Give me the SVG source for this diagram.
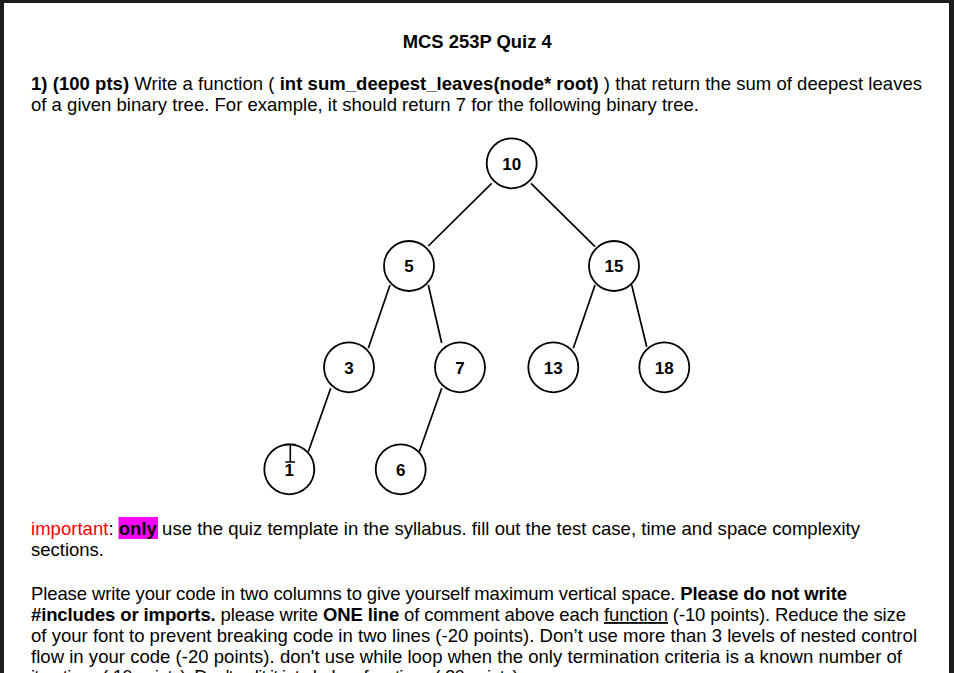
<svg xmlns="http://www.w3.org/2000/svg" width="954" height="673" viewBox="0 0 954 673">
<style>
text{font-family:"Liberation Sans",Arial,sans-serif;font-size:18.5px;fill:#000}
.b{font-weight:bold}
.red{fill:#ff0000}
.nl{font-weight:bold;font-size:17px;text-anchor:middle}
.node circle{fill:#fff;stroke:#000;stroke-width:1.8}
#edges line{stroke:#000;stroke-width:1.7}
</style>
<rect x="0" y="0" width="954" height="673" fill="#1c1c1c"/>
<rect x="4" y="3" width="945" height="670" fill="#ffffff"/>
<text x="402.7" y="48" class="b" textLength="149" lengthAdjust="spacingAndGlyphs">MCS 253P Quiz 4</text>
<text x="31" y="90" textLength="891"><tspan class="b">1) (100 pts)</tspan> Write a function ( <tspan class="b">int sum_deepest_leaves(node* root)</tspan> ) that return the sum of deepest leaves</text>
<text x="31" y="111" textLength="668">of a given binary tree. For example, it should return 7 for the following binary tree.</text>
<g id="edges">
<line x1="491.7" y1="183.3" x2="428.3" y2="246"/>
<line x1="531" y1="183.3" x2="595" y2="246.7"/>
<line x1="390" y1="285" x2="368.3" y2="348.3"/>
<line x1="428.3" y1="285" x2="441.7" y2="343"/>
<line x1="595" y1="285" x2="573.3" y2="348.3"/>
<line x1="631.7" y1="285" x2="646.7" y2="346.7"/>
<line x1="330.7" y1="388.3" x2="308.3" y2="451.7"/>
<line x1="441.7" y1="388.3" x2="419.3" y2="451.7"/>
</g>
<g id="n10" class="node"><circle cx="511.7" cy="163.3" r="25"/><text class="nl" x="511.7" y="169.5">10</text></g>
<g id="n5" class="node"><circle cx="409" cy="266" r="25"/><text class="nl" x="409" y="272.2">5</text></g>
<g id="n15" class="node"><circle cx="614" cy="266" r="25"/><text class="nl" x="614" y="272.2">15</text></g>
<g id="n3" class="node"><circle cx="349" cy="367.3" r="25"/><text class="nl" x="349" y="373.5">3</text></g>
<g id="n7" class="node"><circle cx="460" cy="367.3" r="25"/><text class="nl" x="460" y="373.5">7</text></g>
<g id="n13" class="node"><circle cx="553.3" cy="367.3" r="25"/><text class="nl" x="553.3" y="373.5">13</text></g>
<g id="n18" class="node"><circle cx="664.3" cy="367.3" r="25"/><text class="nl" x="664.3" y="373.5">18</text></g>
<g id="n1" class="node"><circle cx="289.3" cy="469.3" r="25"/><text class="nl" x="289.3" y="475.5">1</text>
<path d="M285 444.5H295.5M290.3 444.5V462M285.3 462H295" stroke="#000" stroke-width="1.6" fill="none"/></g>
<g id="n6" class="node"><circle cx="400.7" cy="469.3" r="25"/><text class="nl" x="400.7" y="475.5">6</text></g>
<rect x="118.5" y="517" width="39.5" height="22" fill="#ff00ff"/>
<text x="31" y="535" textLength="829"><tspan class="red">important</tspan>: <tspan class="b">only</tspan> use the quiz template in the syllabus. fill out the test case, time and space complexity</text>
<text x="31" y="556" textLength="73">sections.</text>
<text x="31" y="600" textLength="816">Please write your code in two columns to give yourself maximum vertical space. <tspan class="b">Please do not write</tspan></text>
<text x="31" y="621" textLength="875"><tspan class="b">#includes or imports.</tspan> please write <tspan class="b">ONE line</tspan> of comment above each <tspan text-decoration="underline">function</tspan> (-10 points). Reduce the size</text>
<text x="31" y="642" textLength="886">of your font to prevent breaking code in two lines (-20 points). Don’t use more than 3 levels of nested control</text>
<text x="31" y="663" textLength="871">flow in your code (-20 points). don't use while loop when the only termination criteria is a known number of</text>
<text x="31" y="683" textLength="492">iterations (-10 points). Don't split it into helper functions (-20 points).</text>
</svg>
